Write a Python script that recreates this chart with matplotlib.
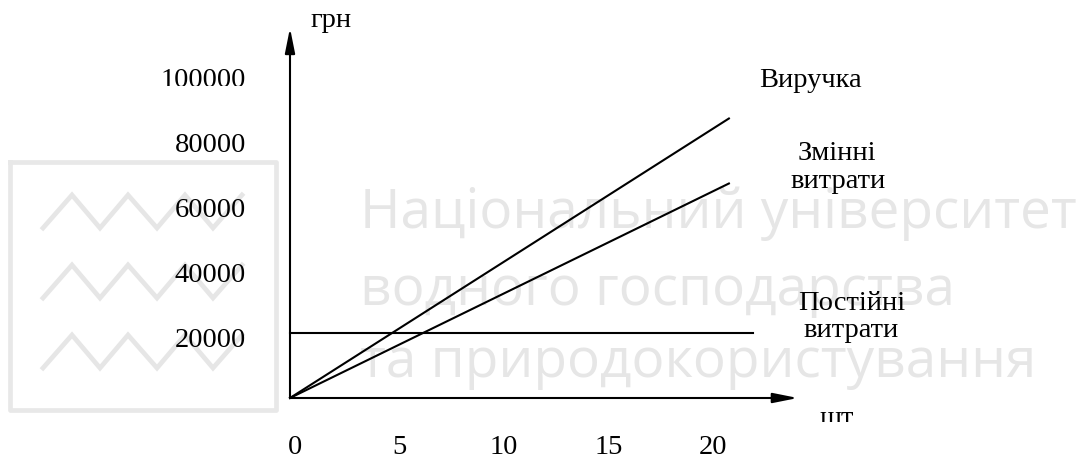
import matplotlib.pyplot as plt
from matplotlib.transforms import ScaledTranslation, Bbox, TransformedBbox

# break-even chart data
quantity = [0, 21.0]
revenue = [0, 86000]
variable_costs = [0, 66000]
fixed_quantity = [0, 22.15]
fixed_costs = [20000, 20000]
y_ticks = [20000, 40000, 60000, 80000, 100000]
x_ticks = [0, 5, 10, 15, 20]
x_arrow_end = 24.3
y_arrow_end = 113850

W, H = 1088, 454
fig = plt.figure(figsize=(W / 100, H / 100), dpi=100)
fig.patch.set_facecolor('white')

# background layer in pixel coords (origin top-left) for the watermark and captions
paper = fig.add_axes([0, 0, 1, 1], zorder=0)
paper.set_xlim(0, W)
paper.set_ylim(H, 0)
paper.axis('off')

paper.plot([10, 276, 276, 10, 10], [162, 162, 410, 410, 162], color='#e8e8e8', lw=3.4)
zx = [43, 72, 100, 128, 157, 185, 213, 242]
for top in (195, 265, 335):
    zy = [top + 33 if i % 2 == 0 else top for i in range(len(zx))]
    paper.plot(zx, zy, color='#e6e6e6', lw=3.4, solid_joinstyle='miter')

wm_lines = ['Національний університет', 'водного господарства', 'та природокористування']
for txt, yb in zip(wm_lines, [228, 305, 377]):
    paper.text(360, yb, txt, family='Open Sans', fontsize=39.5, color='#e6e6e6',
               ha='left', va='baseline')

serif = 'Liberation Serif'
fs = 20.5

# main axes: origin of the chart at pixel (290, 398)
px_x = 20.9            # pixels per unit of quantity
px_y = 65 / 20000      # pixels per hryvnia
ax = fig.add_axes([290 / W, (H - 398) / H, (W - 290) / W, 398 / H], zorder=1)
ax.set_xlim(0, (W - 290) / px_x)
ax.set_ylim(0, 398 / px_y)
ax.axis('off')

ax.plot(quantity, revenue, color='black', lw=1.5, clip_on=False)
ax.plot(quantity, variable_costs, color='black', lw=1.5, clip_on=False)
ax.plot(fixed_quantity, fixed_costs, color='black', lw=1.5, clip_on=False)

arrow = dict(arrowstyle='-|>,head_length=0.75,head_width=0.15', mutation_scale=20,
             lw=1.5, color='black', shrinkA=0, shrinkB=0)
ax.annotate('', xy=(x_arrow_end, 0), xytext=(0, 0), arrowprops=arrow, annotation_clip=False)
ax.annotate('', xy=(0, y_arrow_end), xytext=(0, 0), arrowprops=arrow, annotation_clip=False)

# tick labels, hand placed like in the original sketch
off_y = ax.transData + ScaledTranslation(-0.44, -0.14, fig.dpi_scale_trans)
for v in y_ticks:
    t = ax.text(0, v, str(v), transform=off_y, ha='right', va='baseline',
                family=serif, fontsize=fs)
    t.set_clip_path(None)
    if v == max(y_ticks):
        # top label is cut off at the bottom in the scan
        t.set_clip_box(TransformedBbox(Bbox.from_extents(0, (H - 86) / H, 1, 1),
                                       fig.transFigure))
        t.set_clip_on(True)

off_x = ax.transData + ScaledTranslation(0.05, -0.56, fig.dpi_scale_trans)
for v in x_ticks:
    ax.text(v, 0, str(v), transform=off_x, ha='center', va='baseline',
            family=serif, fontsize=fs)

# captions
paper.text(310, 27, 'грн', family=serif, fontsize=fs, ha='left', va='baseline')
u = paper.text(819, 425, 'шт.', family=serif, fontsize=fs, ha='left', va='baseline')
u.set_clip_box(TransformedBbox(Bbox.from_extents(0, 32 / H, 1, 1), fig.transFigure))
u.set_clip_on(True)

paper.text(810, 87, 'Виручка', family=serif, fontsize=fs, ha='center', va='baseline')
paper.text(837, 160, 'Змінні', family=serif, fontsize=fs, ha='center', va='baseline')
paper.text(838, 188, 'витрати', family=serif, fontsize=fs, ha='center', va='baseline')
paper.text(852, 310, 'Постійні', family=serif, fontsize=fs, ha='center', va='baseline')
paper.text(851, 337, 'витрати', family=serif, fontsize=fs, ha='center', va='baseline')

fig.savefig('out.png', dpi=100)
